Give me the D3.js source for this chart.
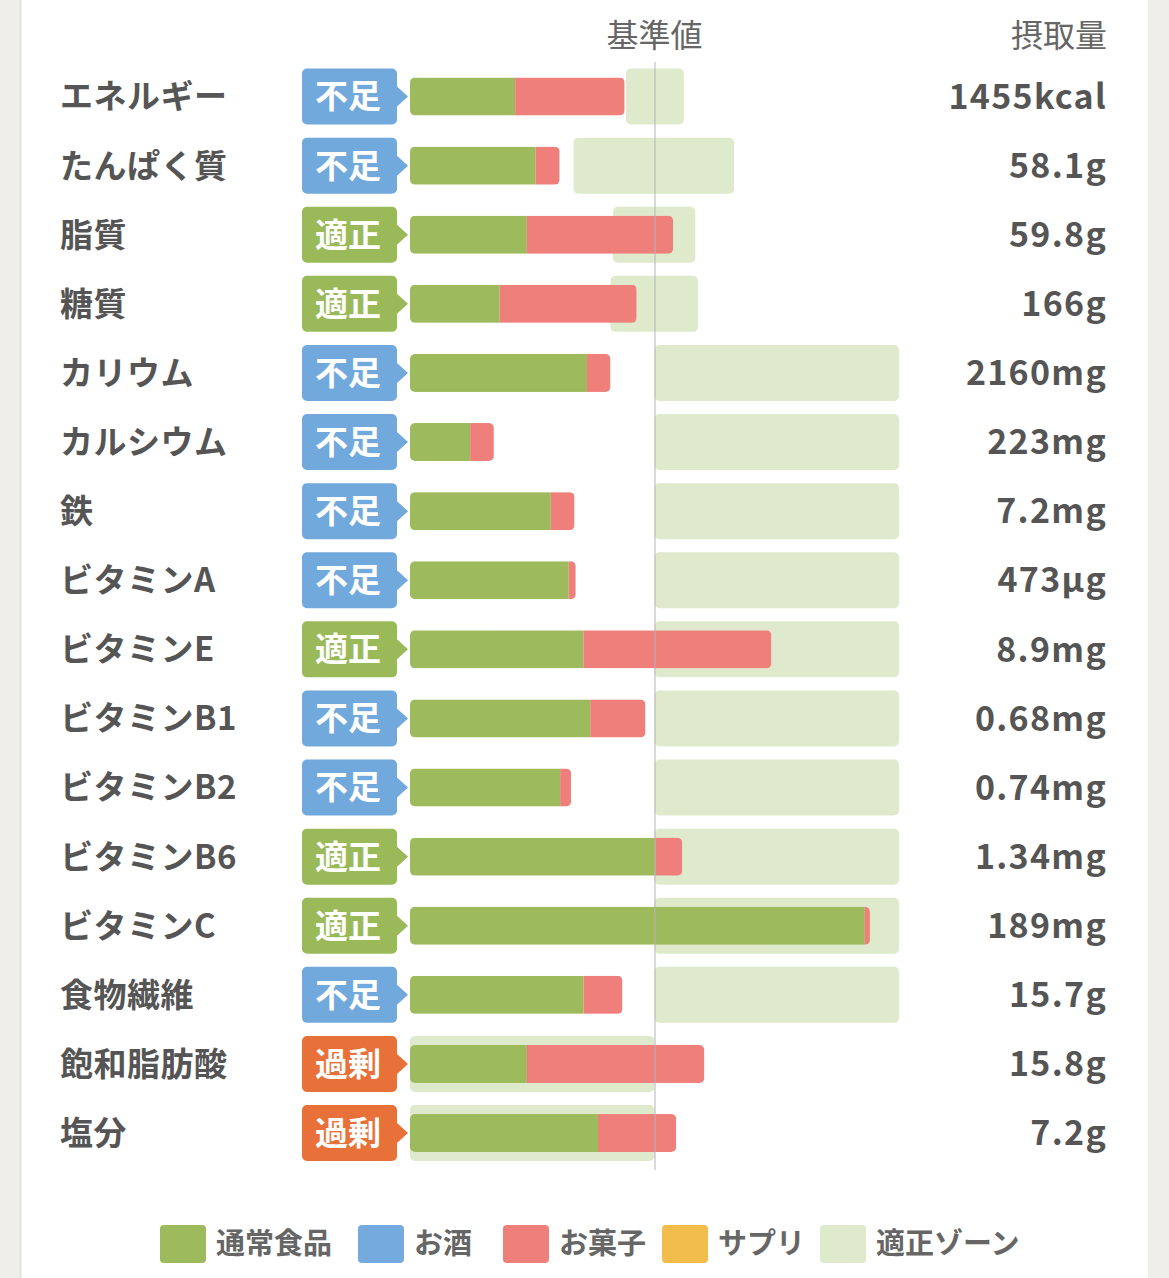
<!DOCTYPE html>
<html>
<head>
<meta charset="utf-8">
<script src="https://cdn.jsdelivr.net/npm/d3@7"></script>
<style>
  html, body { margin: 0; padding: 0; background: #efeee9; }
  svg { display: block; }
</style>
</head>
<body>
<div id="chart"></div>
<script>
// 栄養素ごとのデータ（基準値に対する%）
const nutrients = ["エネルギー", "たんぱく質", "脂質", "糖質", "カリウム", "カルシウム", "鉄", "ビタミンA",
  "ビタミンE", "ビタミンB1", "ビタミンB2", "ビタミンB6", "ビタミンC", "食物繊維", "飽和脂肪酸", "塩分"];
const status = ["不足", "不足", "適正", "適正", "不足", "不足", "不足", "不足",
  "適正", "不足", "不足", "適正", "適正", "不足", "過剰", "過剰"];
const intake = ["1455kcal", "58.1g", "59.8g", "166g", "2160mg", "223mg", "7.2mg", "473μg",
  "8.9mg", "0.68mg", "0.74mg", "1.34mg", "189mg", "15.7g", "15.8g", "7.2g"];
const normalFood = [43.0, 51.4, 47.8, 36.7, 72.4, 24.6, 57.6, 64.9, 70.9, 73.7, 61.4, 100.3, 186.0, 71.0, 47.8, 76.9];
const alcohol = [0, 0, 0, 0, 0, 0, 0, 0, 0, 0, 0, 0, 0, 0, 0, 0];
const snack = [44.8, 9.8, 59.8, 56.0, 9.6, 9.7, 9.7, 2.9, 76.9, 22.6, 4.5, 11.0, 2.1, 15.9, 72.6, 32.0];
const supplement = [0, 0, 0, 0, 0, 0, 0, 0, 0, 0, 0, 0, 0, 0, 0, 0];
const zoneLow = [88.3, 66.9, 83.0, 82.0, 100, 100, 100, 100, 100, 100, 100, 100, 100, 100, 0, 0];
const zoneHigh = [112.0, 132.6, 116.7, 117.8, 200, 200, 200, 200, 200, 200, 200, 200, 200, 200, 100, 100];

const legendLabels = ["通常食品", "お酒", "お菓子", "サプリ", "適正ゾーン"];

const colors = {
  food: "#9dbb5d",
  alcohol: "#74aadd",
  snack: "#ee7f7b",
  supp: "#f3bd4e",
  zone: "#dfe9cc"
};
const badgeColor = { "不足": "#72a9dc", "適正": "#9aba5a", "過剰": "#e8713a" };

const width = 1169, height = 1278;
const font = "'Noto Sans CJK JP', 'Noto Sans', sans-serif";

const svg = d3.select("#chart").append("svg")
  .attr("width", width)
  .attr("height", height);

// カード背景
svg.append("rect")
  .attr("x", 20).attr("y", 0)
  .attr("width", 1128).attr("height", height)
  .attr("fill", "#ffffff");
svg.append("line")
  .attr("x1", 20.5).attr("x2", 20.5).attr("y1", 0).attr("y2", height)
  .attr("stroke", "#e2e1dc").attr("stroke-width", 2);

// スケール
const x = d3.scaleLinear().domain([0, 200]).range([410, 899]);
const y = d3.scaleBand().domain(nutrients).range([62, 62 + 69.1 * nutrients.length]);

const rows = nutrients.map((name, i) => ({
  name, i,
  status: status[i],
  intake: intake[i],
  parts: [
    { key: "food", v0: 0, v1: normalFood[i] },
    { key: "alcohol", v0: normalFood[i], v1: normalFood[i] + alcohol[i] },
    { key: "snack", v0: normalFood[i] + alcohol[i], v1: normalFood[i] + alcohol[i] + snack[i] },
    { key: "supp", v0: normalFood[i] + alcohol[i] + snack[i], v1: normalFood[i] + alcohol[i] + snack[i] + supplement[i] }
  ],
  total: normalFood[i] + alcohol[i] + snack[i] + supplement[i],
  zone: [zoneLow[i], zoneHigh[i]]
}));

const cy = (d) => y(d.name) + y.bandwidth() / 2;

// ヘッダー
svg.append("text")
  .attr("x", x(100)).attr("y", 47)
  .attr("text-anchor", "middle")
  .style("font-family", font).style("font-size", "32px")
  .style("fill", "#666")
  .text("基準値");
svg.append("text")
  .attr("x", 1107).attr("y", 47)
  .attr("text-anchor", "end")
  .style("font-family", font).style("font-size", "32px")
  .style("fill", "#666")
  .text("摂取量");

// 適正ゾーン
svg.selectAll("rect.zone")
  .data(rows)
  .enter()
  .append("rect")
  .attr("class", "zone")
  .attr("x", (d) => x(d.zone[0]))
  .attr("y", (d) => cy(d) - 28)
  .attr("width", (d) => x(d.zone[1]) - x(d.zone[0]))
  .attr("height", 56)
  .attr("rx", 5)
  .attr("fill", colors.zone);

// 棒グラフ（角丸のクリップ）
const defs = svg.append("defs");
rows.forEach((d) => {
  defs.append("clipPath")
    .attr("id", "clip" + d.i)
    .append("rect")
    .attr("x", x(0))
    .attr("y", cy(d) - 19)
    .attr("width", x(d.total) - x(0))
    .attr("height", 38)
    .attr("rx", 5);
});

const barGroups = svg.selectAll("g.bar")
  .data(rows)
  .enter()
  .append("g")
  .attr("class", "bar")
  .attr("clip-path", (d) => `url(#clip${d.i})`);

barGroups.selectAll("rect")
  .data((d) => d.parts.filter((p) => p.v1 > p.v0).map((p) => ({ ...p, row: d })))
  .enter()
  .append("rect")
  .attr("x", (p) => x(p.v0))
  .attr("y", (p) => cy(p.row) - 19)
  .attr("width", (p) => x(p.v1) - x(p.v0))
  .attr("height", 38)
  .attr("fill", (p) => colors[p.key]);

// 基準値の線
svg.append("line")
  .attr("x1", x(100) + 0.5).attr("x2", x(100) + 0.5)
  .attr("y1", 62).attr("y2", 1170)
  .attr("stroke", "#b4b4b4")
  .attr("stroke-width", 1);

// 判定バッジ
function badgePath(c) {
  const x0 = 302, x1 = 397, tip = 408, y0 = c - 28, y1 = c + 28, r = 5;
  const p = d3.path();
  p.moveTo(x0 + r, y0);
  p.lineTo(x1 - r, y0);
  p.arcTo(x1, y0, x1, y0 + r, r);
  p.lineTo(x1, c - 10);
  p.lineTo(tip, c);
  p.lineTo(x1, c + 10);
  p.lineTo(x1, y1 - r);
  p.arcTo(x1, y1, x1 - r, y1, r);
  p.lineTo(x0 + r, y1);
  p.arcTo(x0, y1, x0, y1 - r, r);
  p.lineTo(x0, y0 + r);
  p.arcTo(x0, y0, x0 + r, y0, r);
  p.closePath();
  return p.toString();
}

svg.selectAll("path.badge")
  .data(rows)
  .enter()
  .append("path")
  .attr("class", "badge")
  .attr("d", (d) => badgePath(cy(d)))
  .attr("fill", (d) => badgeColor[d.status]);

svg.selectAll("text.badge")
  .data(rows)
  .enter()
  .append("text")
  .attr("class", "badge")
  .attr("x", 348)
  .attr("y", (d) => cy(d))
  .attr("dy", "0.36em")
  .attr("text-anchor", "middle")
  .style("font-family", font).style("font-size", "33px").style("font-weight", "bold")
  .style("fill", "#ffffff")
  .text((d) => d.status);

// 栄養素名
svg.selectAll("text.name")
  .data(rows)
  .enter()
  .append("text")
  .attr("class", "name")
  .attr("x", 60)
  .attr("y", (d) => cy(d))
  .attr("dy", "0.36em")
  .style("font-family", font).style("font-size", "33px").style("font-weight", "bold")
  .style("letter-spacing", "0.5px")
  .style("fill", "#555")
  .text((d) => d.name);

// 摂取量
svg.selectAll("text.intake")
  .data(rows)
  .enter()
  .append("text")
  .attr("class", "intake")
  .attr("x", 1107)
  .attr("y", (d) => cy(d))
  .attr("dy", "0.36em")
  .attr("text-anchor", "end")
  .style("font-family", font).style("font-size", "34px").style("font-weight", "bold")
  .style("letter-spacing", "1.3px")
  .style("fill", "#555")
  .text((d) => d.intake);

// 凡例
const legendColors = [colors.food, colors.alcohol, colors.snack, colors.supp, colors.zone];
const legendX = [160, 358, 503, 662, 820];
const legend = svg.selectAll("g.legend")
  .data(legendLabels)
  .enter()
  .append("g")
  .attr("class", "legend")
  .attr("transform", (d, i) => `translate(${legendX[i]},1225)`);

legend.append("rect")
  .attr("width", 46).attr("height", 38).attr("rx", 4)
  .attr("fill", (d, i) => legendColors[i]);

legend.append("text")
  .attr("x", 56).attr("y", 19).attr("dy", "0.36em")
  .style("font-family", font).style("font-size", "29px").style("font-weight", "bold")
  .style("fill", "#666")
  .text((d) => d);
</script>
</body>
</html>
